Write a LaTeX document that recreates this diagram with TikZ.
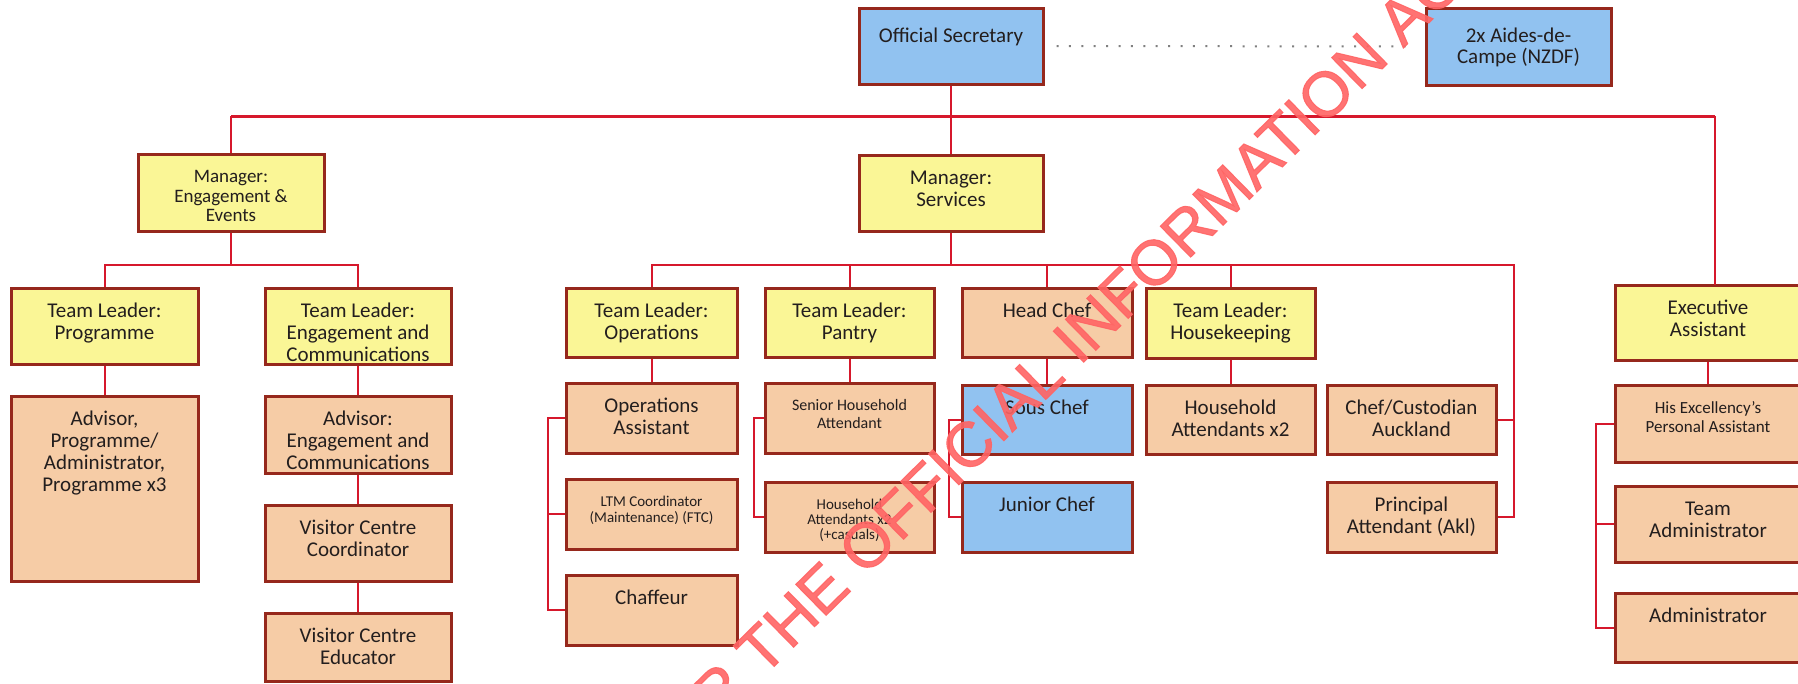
\documentclass[tikz,border=0pt]{standalone}
\usepackage{fontspec}
\setmainfont{Carlito}
\newfontfamily\markfont{Liberation Sans}[FakeBold=1.6]
\usetikzlibrary{calc}

\definecolor{boxyellow}{RGB}{250,246,150}
\definecolor{boxtan}{RGB}{246,204,166}
\definecolor{boxblue}{RGB}{145,194,240}
\definecolor{boxedge}{RGB}{150,40,28}
\definecolor{linkred}{RGB}{214,24,44}
\definecolor{inkdark}{RGB}{35,30,30}
\definecolor{markred}{RGB}{255,100,100}

\tikzset{
  orgbox/.style={draw=boxedge, line width=3pt, inner sep=0pt},
  orglabel/.style={align=center, inner sep=0pt, text=inkdark},
  conn/.style={draw=linkred, line width=2pt},
  busline/.style={draw=linkred, line width=3pt},
  dotline/.style={draw=gray, line width=2pt, dash pattern=on 2pt off 10.4pt},
  stamp/.style={text=markred, opacity=0.9, inner sep=0pt,
    font=\markfont\fontsize{63}{70}\selectfont},
}

% distance from a box's top edge to the middle of its first text line
\def\labeldrop{24}

% #1 name, #2 fill, #3 left, #4 top, #5 right, #6 bottom,
% #7 font size, #8 line spacing, #9 text (top aligned)
\newcommand\obox[9]{%
  \node[orgbox, fill=#2, minimum width={(#5-#3)*1pt}, minimum height={(#6-#4)*1pt}]
    (#1) at ({(#3+#5)/2},{(#4+#6)/2}) {};
  \node[orglabel, font=\fontsize{#7}{#8}\selectfont, anchor=north]
    (#1-t) at ([yshift={-\labeldrop pt+0.47*#7pt}]#1.north) {\rule{0pt}{0.8em}#9};
}

\begin{document}
\begin{tikzpicture}[x=1pt, y=-1pt]
\useasboundingbox (0,0) rectangle (1798,683);
\fill[white] (0,0) rectangle (1798,683);
\clip (0,0) rectangle (1798,683);

% top level
{\def\labeldrop{29}
\obox{os}{boxblue}{859}{8}{1043}{84}{21}{22}{Official Secretary}
\obox{adc}{boxblue}{1426}{8}{1611}{85}{21}{21}{2x Aides-de-\\Campe (NZDF)}
}

% managers
\obox{mgrE}{boxyellow}{138}{154}{324}{231}{19}{19.5}{Manager:\\Engagement \&\\Events}
\obox{mgrS}{boxyellow}{859}{155}{1043}{231}{21}{22}{Manager:\\Services}

% team leaders
\obox{tlProg}{boxyellow}{11}{288}{198}{364}{21}{22}{Team Leader:\\Programme}
\obox{tlEC}{boxyellow}{265}{288}{451}{364}{21}{22}{Team Leader:\\Engagement and\\Communications}
\obox{tlOps}{boxyellow}{566}{288}{737}{357}{21}{22}{Team Leader:\\Operations}
\obox{tlPan}{boxyellow}{765}{288}{934}{357}{21}{22}{Team Leader:\\Pantry}
\obox{headChef}{boxtan}{962}{288}{1132}{357}{21}{22}{Head Chef}
\obox{tlHK}{boxyellow}{1146}{288}{1315}{358}{21}{22}{Team Leader:\\Housekeeping}
\obox{ea}{boxyellow}{1615}{285}{1801}{360}{21}{22}{Executive\\Assistant}

% engagement & events staff
\obox{advProg}{boxtan}{11}{396}{198}{581}{21}{22}{Advisor,\\Programme/\\Administrator,\\Programme x3}
\obox{advEC}{boxtan}{265}{396}{451}{473}{21}{22}{Advisor:\\Engagement and\\Communications}
\obox{vcc}{boxtan}{265}{505}{451}{581}{21}{22}{Visitor Centre\\Coordinator}
\obox{vce}{boxtan}{265}{613}{451}{681}{21}{22}{Visitor Centre\\Educator}

% services staff
\obox{opsA}{boxtan}{566}{383}{737}{453}{21}{22}{Operations\\Assistant}
\obox{ltm}{boxtan}{566}{479}{737}{549}{15}{16}{LTM Coordinator\\(Maintenance) (FTC)}
\obox{chaf}{boxtan}{566}{575}{737}{645}{21}{22}{Chaffeur}
\obox{senHA}{boxtan}{765}{383}{934}{453}{16}{17.5}{Senior Household\\Attendant}
\obox{haCas}{boxtan}{765}{482}{934}{552}{15}{15}{Household\\Attendants x2\\(+casuals)}
\obox{sous}{boxblue}{962}{385}{1132}{454}{21}{22}{Sous Chef}
\obox{junior}{boxblue}{962}{482}{1132}{552}{21}{22}{Junior Chef}
\obox{haX2}{boxtan}{1146}{385}{1315}{454}{21}{22}{Household\\Attendants x2}
\obox{chefAkl}{boxtan}{1327}{385}{1496}{454}{21}{22}{Chef/Custodian\\Auckland}
\obox{prinAkl}{boxtan}{1327}{482}{1496}{552}{21}{22}{Principal\\Attendant (Akl)}

% executive assistant staff
\obox{hePA}{boxtan}{1615}{385}{1801}{462}{17}{19.5}{His Excellency's\\Personal Assistant}
\obox{teamAdm}{boxtan}{1615}{486}{1801}{562}{21}{22}{Team\\Administrator}
\obox{admin}{boxtan}{1615}{593}{1801}{662}{21}{22}{Administrator}

% bus coordinates
\coordinate (busA) at (0,116);
\coordinate (busB) at (0,265);
\coordinate (eaDrop) at (1715,285);
\coordinate (akBus) at (1514,265);

% connectors
\draw[dotline] ([xshift=12pt]os.east) -- ([xshift=-10pt]adc.west);
\draw[conn] (os.south) -- (mgrS.north);
\draw[busline] (mgrE.north |- busA) -- (eaDrop |- busA);
\draw[conn] (mgrE.north) -- (mgrE.north |- busA);
\draw[conn] (eaDrop |- busA) -- (eaDrop);

\draw[conn] (mgrE.south) -- (mgrE.south |- busB);
\draw[conn] (tlProg.north) -- (tlProg.north |- busB) -- (tlEC.north |- busB) -- (tlEC.north);
\draw[conn] (tlProg.south) -- (advProg.north);
\draw[conn] (tlEC.south) -- (advEC.north);
\draw[conn] (advEC.south) -- (vcc.north);
\draw[conn] (vcc.south) -- (vce.north);

\draw[conn] (mgrS.south) -- (mgrS.south |- busB);
\draw[conn] (tlOps.north) -- (tlOps.north |- busB) -- (akBus) |- (prinAkl.east);
\draw[conn] (tlPan.north) -- (tlPan.north |- busB);
\draw[conn] (headChef.north) -- (headChef.north |- busB);
\draw[conn] (tlHK.north) -- (tlHK.north |- busB);
\draw[conn] (chefAkl.east) -- (chefAkl.east -| akBus);

\draw[conn] (tlOps.south) -- (opsA.north);
\draw[conn] (opsA.west) -- ++(-17,0) |- (chaf.west);
\draw[conn] (ltm.west) -- ++(-17,0);
\draw[conn] (tlPan.south) -- (senHA.north);
\draw[conn] (senHA.west) -- ++(-10,0) |- (haCas.west);
\draw[conn] (headChef.south) -- (sous.north);
\draw[conn] (sous.west) -- ++(-12,0) |- (junior.west);
\draw[conn] (tlHK.south) -- (haX2.north);

\draw[conn] (ea.south) -- (hePA.north);
\draw[conn] (hePA.west) -- ++(-18,0) |- (admin.west);
\draw[conn] (teamAdm.west) -- ++(-18,0);

% release stamp across the chart
\node[stamp, rotate=44.5, anchor=base west] (relstamp) at (338,1095)
  {RELEASED UNDER THE OFFICIAL INFORMATION ACT};
\end{tikzpicture}
\end{document}
